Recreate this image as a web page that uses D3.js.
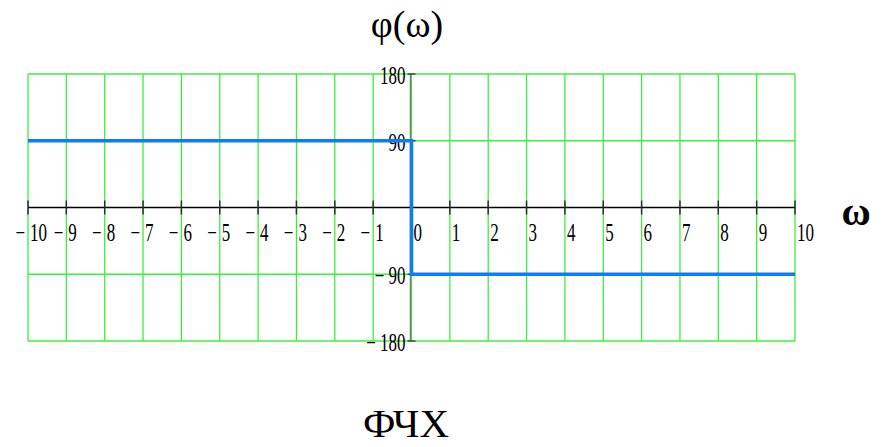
<!DOCTYPE html>
<html>
<head>
<meta charset="utf-8">
<script src="https://cdn.jsdelivr.net/npm/d3@7"></script>
<style>
  html, body { margin: 0; padding: 0; background: #fff; }
  svg { display: block; }
  text { font-family: "Liberation Serif", "Times New Roman", "DejaVu Serif", serif; fill: #000; }
</style>
</head>
<body>
<script>
// Phase–frequency response φ(ω): a step from +90° to −90° at ω = 0
const omega = [-10, 0, 0, 10];
const phi = [90, 90, -90, -90];

const xTicks = d3.range(-10, 11);           // −10 … 10
const yTicks = [-180, -90, 90, 180];
const xDomain = [-10, 10];
const yDomain = [-180, 180];

const W = 885, H = 447;
const plotL = 28, plotR = 795, plotT = 74, plotB = 341;

const svg = d3.select("body").append("svg")
  .attr("width", W).attr("height", H);

const x = d3.scaleLinear().domain(xDomain).range([plotL, plotR]);
const y = d3.scaleLinear().domain(yDomain).range([plotB, plotT]);

const GRID = "#3cef3c";

// grid
const grid = svg.append("g");
grid.selectAll("line.v").data(xTicks).join("line")
  .attr("x1", d => x(d)).attr("x2", d => x(d))
  .attr("y1", y(180)).attr("y2", y(-180))
  .attr("stroke", GRID).attr("stroke-width", 1.3);
grid.selectAll("line.h").data(yTicks).join("line")
  .attr("x1", x(-10)).attr("x2", x(10))
  .attr("y1", d => y(d)).attr("y2", d => y(d))
  .attr("stroke", GRID).attr("stroke-width", 1.3);

// vertical axis through ω = 0
svg.append("line")
  .attr("x1", x(0) - 1).attr("x2", x(0) - 1)
  .attr("y1", y(180)).attr("y2", y(-180))
  .attr("stroke", "#7a7a7a").attr("stroke-width", 1.5);
svg.selectAll("line.yt").data(yTicks).join("line")
  .attr("x1", x(0) - 4).attr("x2", x(0) + 4)
  .attr("y1", d => y(d)).attr("y2", d => y(d))
  .attr("stroke", "#333").attr("stroke-width", 1.3);

// horizontal axis at φ = 0 with ticks
svg.append("line")
  .attr("x1", x(-10)).attr("x2", x(10))
  .attr("y1", y(0)).attr("y2", y(0))
  .attr("stroke", "#000").attr("stroke-width", 1.3);
svg.selectAll("line.xt").data(xTicks).join("line")
  .attr("x1", d => x(d)).attr("x2", d => x(d))
  .attr("y1", y(0) - 7).attr("y2", y(0) + 7)
  .attr("stroke", "#1d3a1d").attr("stroke-width", 1.5);

// condensed numeric labels
const SX = 0.68, FS = 25;
function label(g, tx, ty, str, anchor) {
  g.append("text")
    .attr("transform", `translate(${tx},${ty}) scale(${SX},1)`)
    .attr("text-anchor", anchor)
    .attr("font-size", FS)
    .text(str);
}

const xl = svg.append("g");
xTicks.forEach(d => {
  label(xl, x(d) + 2, y(0) + 33, String(Math.abs(d)), "start");
  if (d < 0) label(xl, x(d) - 3, y(0) + 33, "\u2212", "end");
});

const yl = svg.append("g");
yTicks.forEach(d => {
  label(yl, x(0) - 6, y(d) + 10, (d < 0 ? "\u2212 " : "") + Math.abs(d), "end");
});

// the response curve
svg.append("path")
  .datum(d3.zip(omega, phi))
  .attr("fill", "none")
  .attr("stroke", "#0a7ef2")
  .attr("stroke-width", 3.5)
  .attr("d", d3.line().x(d => x(d[0])).y(d => y(d[1])));

// titles
svg.append("text")
  .attr("x", 407).attr("y", 37)
  .attr("text-anchor", "middle")
  .attr("font-size", 38)
  .text("φ(ω)");

svg.append("text")
  .attr("x", 856).attr("y", 225)
  .attr("text-anchor", "middle")
  .attr("font-size", 40)
  .attr("font-weight", "bold")
  .text("ω");

svg.append("text")
  .attr("x", 406).attr("y", 437)
  .attr("text-anchor", "middle")
  .attr("font-size", 41)
  .text("ФЧХ");
</script>
</body>
</html>
